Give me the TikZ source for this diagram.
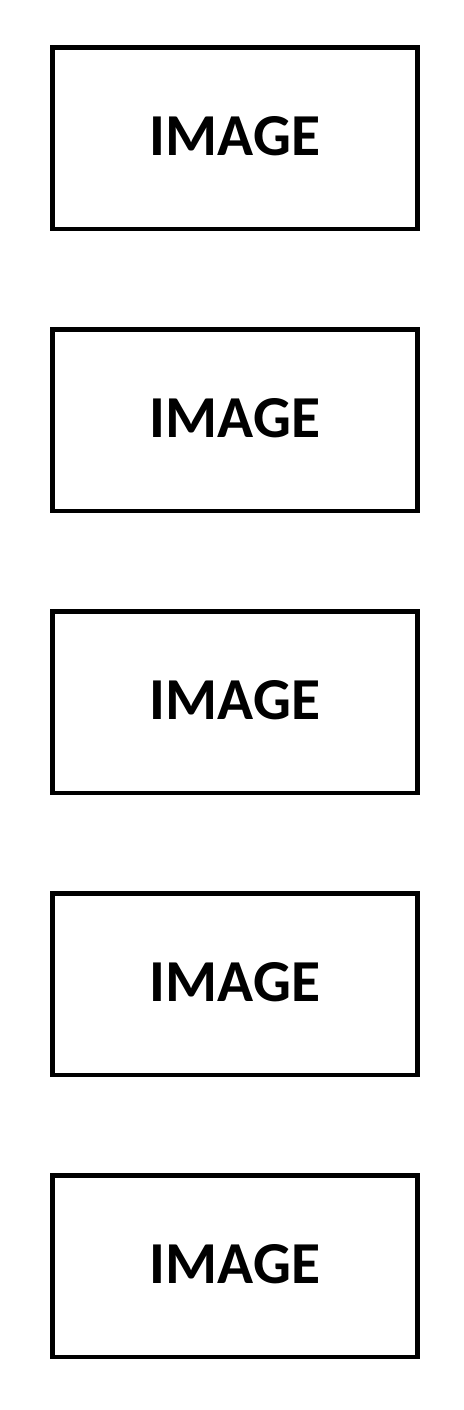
\documentclass[tikz,border=0pt]{standalone}
\usepackage{fontspec}
\setmainfont{Carlito}
\tikzset{
  imgbox/.style={draw=black, line width=4.5pt, minimum width=365pt, minimum height=181.5pt,
    inner sep=0pt, font=\fontsize{59.5}{60}\selectfont\bfseries, text depth=4.5pt}
}
\begin{document}
\begin{tikzpicture}[x=1pt,y=1pt]
\useasboundingbox (0,0) rectangle (463,-1410);
\foreach \i in {0,...,4}{
  \node[imgbox] (box\i) at (235,{-(138.25+282*\i)}) {IMAGE};
}
\end{tikzpicture}
\end{document}
